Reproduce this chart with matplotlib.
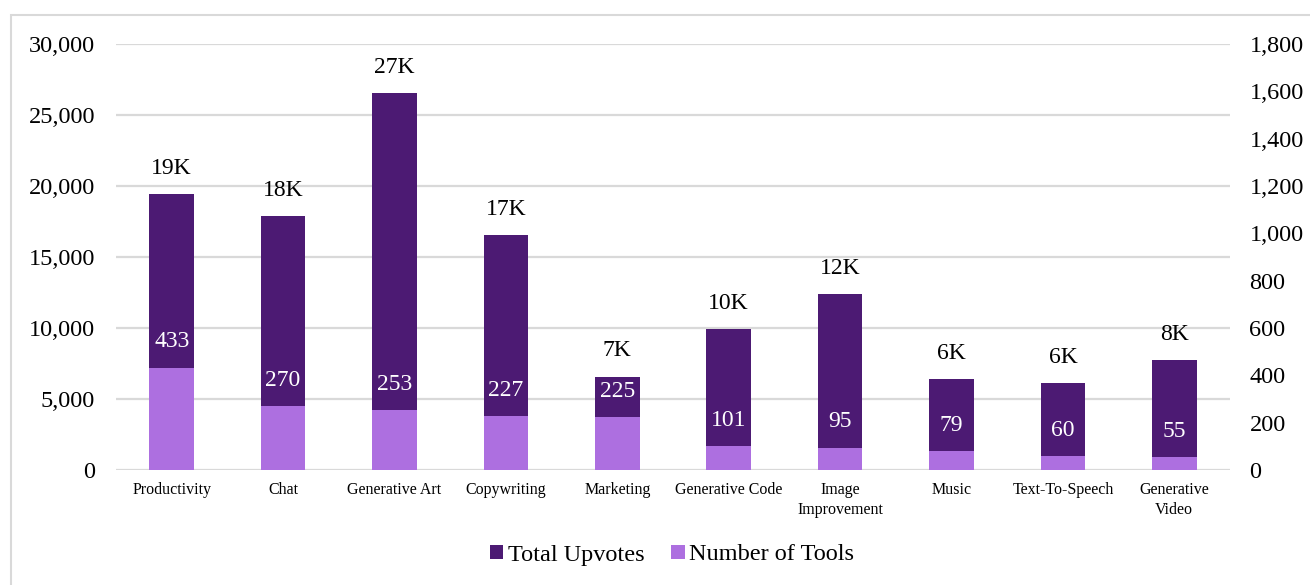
import matplotlib
matplotlib.use("Agg")
import matplotlib.pyplot as plt
from matplotlib.ticker import FuncFormatter, MultipleLocator
from matplotlib.patches import Rectangle

categories = ["Productivity", "Chat", "Generative Art", "Copywriting", "Marketing",
              "Generative Code", "Image\nImprovement", "Music", "Text-To-Speech",
              "Generative\nVideo"]
total_upvotes = [19450, 17900, 26550, 16550, 6580, 9900, 12400, 6420, 6100, 7750]
number_of_tools = [433, 270, 253, 227, 225, 101, 95, 79, 60, 55]

DARK = "#4C1A73"
LIGHT = "#AD6FE0"
GRID = "#D9D9D9"

plt.rcParams["font.family"] = ["Liberation Serif", "DejaVu Serif"]

fig = plt.figure(figsize=(13.1, 5.85), dpi=100)
ax = fig.add_axes([116 / 1310, 1 - 470 / 585, (1230 - 116) / 1310, (470 - 44) / 585])
ax2 = ax.twinx()

x = list(range(len(categories)))
w = 0.4

ax.bar(x, total_upvotes, width=w, color=DARK, zorder=2, label="Total Upvotes")
ax2.bar(x, number_of_tools, width=w, color=LIGHT, zorder=3, label="Number of Tools")

ax.set_xlim(-0.5, len(categories) - 0.5)
ax.set_ylim(0, 30000)
ax2.set_ylim(0, 1800)
ax.yaxis.set_major_locator(MultipleLocator(5000))
ax2.yaxis.set_major_locator(MultipleLocator(200))
fmt = FuncFormatter(lambda v, p: f"{int(v):,}")
ax.yaxis.set_major_formatter(fmt)
ax2.yaxis.set_major_formatter(fmt)

ax.set_axisbelow(True)
ax.grid(axis="y", color=GRID, linewidth=1.6, zorder=0)
ax.set_xticks(x)
ax.set_xticklabels(categories, fontsize=11.5, linespacing=1.25)
ax.tick_params(axis="x", length=0, pad=9)
ax.tick_params(axis="y", length=0, pad=15, labelsize=17.5)
ax2.tick_params(axis="y", length=0, pad=14, labelsize=17.5)
for a in (ax, ax2):
    for s in a.spines.values():
        s.set_visible(False)

for xi, v in zip(x, total_upvotes):
    ax.annotate(f"{round(v / 1000)}K", (xi, v), xytext=(0, 18.5), textcoords="offset points",
                ha="center", va="center", fontsize=17, color="black", zorder=5)
for xi, v in zip(x, number_of_tools):
    ax2.annotate(f"{v}", (xi, v), xytext=(0, 18.5), textcoords="offset points",
                 ha="center", va="center", fontsize=17, color="white", zorder=5)

h1, l1 = ax.get_legend_handles_labels()
h2, l2 = ax2.get_legend_handles_labels()
fig.legend(h1 + h2, l1 + l2, loc="center", bbox_to_anchor=(672 / 1310, 1 - 555 / 585),
           ncol=2, frameon=False, fontsize=17.5, handlelength=0.55, handleheight=0.55,
           handletextpad=0.2, columnspacing=1.1)

fig.patches.append(Rectangle((11 / 1310, -0.05), 1.1, 1 - 15 / 585 + 0.05,
                             transform=fig.transFigure, fill=False,
                             edgecolor=GRID, linewidth=1.5))

fig.savefig("out.png", dpi=100)
